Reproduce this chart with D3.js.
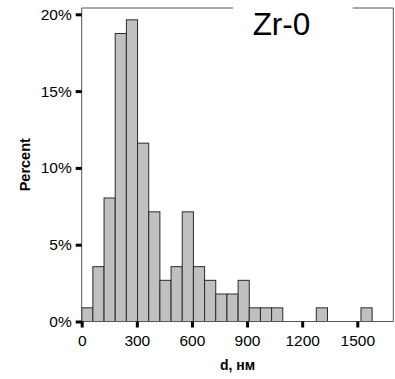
<!DOCTYPE html>
<html><head><meta charset="utf-8">
<script src="https://cdn.jsdelivr.net/npm/d3@7"></script>
<style>body{margin:0;background:#fff}svg{display:block}text{font-family:"Liberation Sans",Arial,sans-serif}</style>
</head><body>
<svg id="c" width="395" height="379"></svg>
<script>
const binWidth = 60.8;
const binStarts = d3.range(26).map(i => i * binWidth);
const percents = [0.89, 3.57, 8.04, 18.75, 19.64, 11.61, 7.14, 2.68, 3.57, 7.14, 3.57, 2.68, 1.79, 1.79, 2.68, 0.89, 0.89, 0.89, 0, 0, 0, 0.89, 0, 0, 0, 0.89];
const xTicks = [0, 300, 600, 900, 1200, 1500];
const yTicks = [0, 5, 10, 15, 20];
const title = "Zr-0";
const xTitle = "d, нм";
const yTitle = "Percent";

const svg = d3.select("#c");
const L = 81.7, R = 393.3, T = 8, B = 321.5;
const x = d3.scaleLinear().domain([0, 1500]).range([L, 357.3]);
const y = d3.scaleLinear().domain([0, 20]).range([B, 14.3]);

// bars
svg.append("g").selectAll("rect")
  .data(binStarts.map((s, i) => ({s, v: percents[i]})).filter(d => d.v > 0))
  .join("rect")
  .attr("x", d => x(d.s))
  .attr("width", d => x(d.s + binWidth) - x(d.s))
  .attr("y", d => y(d.v))
  .attr("height", d => y(0) - y(d.v))
  .attr("fill", "#c0c0c0")
  .attr("stroke", "#2a2a2a")
  .attr("stroke-width", 1);

// frame
const frame = svg.append("g").attr("fill", "none").attr("stroke", "#555").attr("stroke-width", 1);
frame.append("path").attr("d", `M${L},${B}V${T}H233M352.7,${T}H${R}V${B}H${L}`);

// x axis
const xa = svg.append("g").attr("transform", `translate(0,${B})`)
  .call(d3.axisBottom(x).tickValues(xTicks).tickSize(6).tickPadding(7).tickFormat(d3.format("d")));
xa.select(".domain").remove();
xa.selectAll(".tick line").attr("stroke", "#000").attr("stroke-width", 3);
xa.selectAll(".tick text").attr("font-size", "15.5px").attr("fill", "#000").attr("font-family", "Liberation Sans, Arial, sans-serif");

// y axis
const ya = svg.append("g").attr("transform", `translate(${L},0)`)
  .call(d3.axisLeft(y).tickValues(yTicks).tickSize(6).tickPadding(4).tickFormat(d => d + "%"));
ya.select(".domain").remove();
ya.selectAll(".tick line").attr("stroke", "#000").attr("stroke-width", 3);
ya.selectAll(".tick text").attr("font-size", "15.5px").attr("fill", "#000").attr("font-family", "Liberation Sans, Arial, sans-serif");

// titles
svg.append("text").attr("x", 281.5).attr("y", 35).attr("text-anchor", "middle")
  .attr("font-size", "31.5px").attr("fill", "#000").text(title);
svg.append("text").attr("x", (L + R) / 2).attr("y", 370).attr("text-anchor", "middle")
  .attr("font-size", "14px").attr("font-weight", "bold").attr("fill", "#000").text(xTitle);
svg.append("text").attr("transform", `translate(30,${(T + B) / 2}) rotate(-90)`).attr("text-anchor", "middle")
  .attr("font-size", "14.5px").attr("font-weight", "bold").attr("fill", "#000").text(yTitle);
</script>
</body></html>
